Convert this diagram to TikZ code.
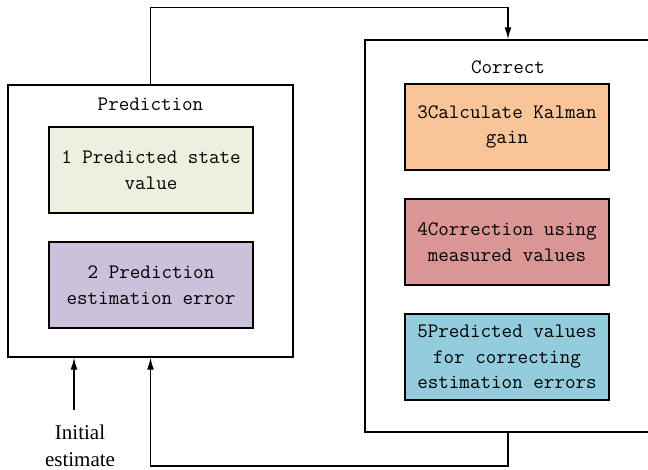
\documentclass[tikz,border=0pt]{standalone}
\usepackage{fontspec}
\setmainfont{Liberation Serif}
\usepackage{xcolor}
\usetikzlibrary{arrows.meta,positioning}
\definecolor{predgreen}{HTML}{EBF1DE}
\definecolor{predpurple}{HTML}{CCC1DA}
\definecolor{corrorange}{HTML}{F9C497}
\definecolor{corrred}{HTML}{D99694}
\definecolor{corrblue}{HTML}{93CDDD}
\newcommand{\cardfont}{\ttfamily\fontsize{20.5}{25.5}\selectfont}
\tikzset{
  outerbox/.style={draw=black,line width=1.4pt,fill=white,inner sep=0pt},
  card/.style={draw=black,line width=1.8pt,minimum width=204pt,minimum height=86pt,align=center,inner sep=0pt,font=\cardfont},
  greencard/.style={card,fill=predgreen},
  purplecard/.style={card,fill=predpurple},
  orangecard/.style={card,fill=corrorange},
  redcard/.style={card,fill=corrred},
  bluecard/.style={card,fill=corrblue},
  boxtitle/.style={font=\cardfont,inner sep=0pt},
  flowarrow/.style={-{Latex[length=12pt,width=7pt]},line width=1.4pt,draw=black}
}
\begin{document}
\begin{tikzpicture}[x=1pt,y=-1pt]
  \useasboundingbox (0,0) rectangle (648,470);
  \node[outerbox,minimum width=285pt,minimum height=272pt] (pred) at (150.5,221) {};
  \node[outerbox,minimum width=286pt,minimum height=392pt] (corr) at (508,236) {};
  \node[boxtitle] (predtitle) at (150.5,104) {Prediction};
  \node[boxtitle] (corrtitle) at (508,67) {Correct};
  \node[greencard] (step1) at (151,170) {1 Predicted state\\value};
  \node[purplecard] (step2) at (151,285) {2 Prediction\\estimation error};
  \node[orangecard] (step3) at (507,127) {3Calculate Kalman\\gain};
  \node[redcard] (step4) at (507,242) {4Correction using\\measured values};
  \node[bluecard] (step5) at (507,357) {5Predicted values\\for correcting\\estimation errors};
  \coordinate (topline) at (0,7.5);
  \coordinate (botline) at (0,466);
  \coordinate (initpt) at (74,410);
  \node[font=\fontsize{21}{27}\selectfont,align=center,inner sep=0pt] (init) at (80,446) {Initial\\estimate};
  \draw[flowarrow] (pred.north) -- (pred.north |- topline) -| (corr.north);
  \draw[flowarrow] (corr.south) -- (corr.south |- botline) -| (pred.south);
  \draw[flowarrow] (initpt) -- (initpt |- pred.south);
\end{tikzpicture}
\end{document}
